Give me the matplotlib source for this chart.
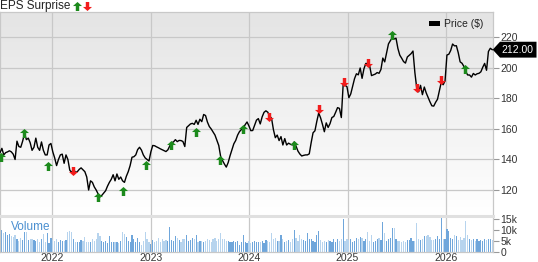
import numpy as np
import pandas as pd
import matplotlib
matplotlib.use("Agg")
import matplotlib.pyplot as plt
import matplotlib.transforms as mtransforms
from matplotlib.path import Path
from matplotlib.patches import Polygon
from matplotlib.colors import LinearSegmentedColormap

plt.rcParams["font.family"] = ["Liberation Sans", "DejaVu Sans"]

# ---------------------------------------------------------------------------
# Data (weekly closes from 2021-06-21, volume in thousands)
# ---------------------------------------------------------------------------
start_date = "2021-06-21"

prices = [
    144.4, 147.3, 143.0, 144.5, 145.0, 145.7, 145.0, 143.5, 140.0, 152.0,
    148.5, 148.0, 152.0, 157.0, 153.0, 154.0, 151.0, 146.0, 148.0, 154.0,
    148.0, 146.0, 151.5, 146.0, 143.0, 143.0, 149.5, 150.5, 145.0, 141.0,
    136.0, 140.0, 143.0, 143.5, 137.5, 143.0, 140.0, 133.0, 131.5, 133.6,
    131.5, 132.0, 133.5, 134.5, 133.2, 132.0, 128.5, 120.0, 126.0, 125.0,
    122.0, 120.0, 117.5, 115.4, 116.5, 118.0, 119.5, 122.5, 125.0, 127.0,
    130.0, 126.0, 130.5, 127.0, 128.5, 126.0, 125.0, 129.0, 132.0, 136.0,
    141.5, 141.8, 143.0, 146.5, 148.0, 146.2, 143.0, 141.0, 140.0, 139.0,
    145.0, 149.2, 149.0, 148.3, 147.7, 147.0, 146.4, 145.8, 145.2, 146.3,
    148.8, 151.0, 151.5, 153.0, 151.7, 152.5, 152.4, 151.8, 148.5, 161.0,
    162.2, 163.3, 163.7, 163.0, 165.7, 163.0, 166.4, 164.8, 169.5, 168.8,
    164.5, 161.6, 160.0, 158.0, 156.0, 152.5, 149.2, 142.0, 139.3, 137.0,
    135.0, 138.0, 142.5, 146.5, 150.3, 152.5, 156.0, 158.3, 159.6, 160.5,
    162.8, 164.6, 162.0, 158.9, 159.0, 162.5, 165.8, 166.8, 163.3, 167.9,
    170.9, 171.9, 171.0, 168.5, 167.0, 159.5, 154.3, 156.0, 152.4, 155.0,
    149.5, 153.7, 149.5, 150.7, 150.0, 149.5, 151.5, 148.7, 145.5, 143.6,
    142.3, 142.7, 143.0, 143.0, 143.7, 151.0, 157.5, 158.8, 165.0, 170.5,
    167.3, 163.0, 158.2, 164.0, 161.0, 163.5, 167.5, 168.2, 171.0, 174.0,
    173.5, 167.5, 189.8, 188.6, 187.7, 180.5, 183.0, 188.0, 193.0, 196.2,
    195.5, 200.0, 193.2, 199.5, 203.0, 202.8, 201.6, 195.0, 195.5, 196.0,
    197.0, 196.5, 199.0, 206.5, 204.0, 210.0, 215.8, 217.9, 219.8, 219.0,
    219.5, 212.8, 208.4, 206.4, 204.2, 203.2, 207.2, 208.3, 209.4, 211.1,
    197.0, 186.6, 184.4, 188.6, 182.5, 187.5, 183.7, 180.8, 177.8, 175.2,
    175.0, 177.5, 179.5, 185.0, 190.7, 189.0, 191.5, 208.5, 209.0, 211.5,
    215.7, 214.5, 214.6, 210.0, 204.0, 203.1, 201.0, 197.5, 195.4, 195.4,
    194.0, 196.4, 195.4, 196.2, 196.5, 197.5, 200.5, 203.0, 198.5, 210.8,
    212.9, 212.0,
]

volume_k = [
    11.5, 10.0, 8.4, 9.0, 7.5, 8.0, 7.0, 6.5, 7.8, 6.0,
    5.0, 6.2, 5.5, 9.0, 8.8, 5.4, 5.9, 6.0, 5.2, 4.8,
    5.6, 4.5, 5.8, 8.0, 4.6, 8.7, 3.8, 6.2, 5.5, 5.0,
    6.0, 4.4, 5.2, 5.0, 4.8, 5.4, 9.0, 9.3, 9.0, 5.8,
    4.6, 4.4, 4.2, 5.5, 4.8, 6.8, 4.5, 4.2, 4.4, 6.0,
    5.0, 5.6, 8.4, 7.0, 5.0, 4.2, 4.8, 4.0, 7.0, 4.5,
    4.3, 4.6, 4.2, 4.0, 4.8, 9.0, 8.0, 6.5, 5.0, 4.2,
    7.5, 5.6, 4.5, 6.2, 4.6, 3.0, 5.0, 9.0, 5.8, 4.2,
    3.6, 5.4, 4.4, 5.0, 6.2, 4.6, 5.8, 4.8, 5.2, 5.0,
    11.5, 5.4, 5.0, 7.0, 6.2, 5.5, 4.6, 6.0, 5.6, 7.5,
    4.8, 5.2, 6.4, 5.8, 7.5, 4.6, 5.0, 4.8, 4.4, 4.8,
    6.0, 5.2, 4.6, 5.8, 6.4, 5.0, 5.8, 8.4, 6.0, 5.6,
    5.0, 4.8, 4.2, 4.6, 4.8, 4.4, 5.0, 3.2, 4.6, 7.5,
    4.2, 4.0, 4.8, 3.8, 4.2, 5.0, 4.4, 4.6, 4.2, 4.8,
    4.0, 5.4, 5.0, 4.6, 8.7, 5.8, 6.4, 5.0, 4.8, 7.5,
    5.6, 4.4, 4.8, 5.2, 4.6, 5.8, 10.0, 6.4, 5.0, 7.5,
    6.0, 5.4, 4.8, 8.4, 6.0, 5.6, 5.0, 4.6, 7.5, 9.5,
    5.2, 4.2, 5.0, 4.6, 5.4, 4.8, 4.2, 5.6, 4.6, 5.6,
    4.8, 6.0, 15.0, 5.0, 5.6, 5.2, 5.6, 4.6, 5.0, 6.2,
    6.0, 6.8, 6.2, 5.0, 5.6, 9.0, 4.8, 7.5, 4.6, 5.0,
    5.6, 6.4, 5.2, 13.4, 8.4, 5.0, 5.8, 6.2, 10.8, 11.0,
    5.6, 5.0, 4.8, 4.6, 5.0, 4.2, 5.4, 5.4, 6.4, 5.0,
    4.8, 13.0, 5.6, 5.4, 6.0, 7.2, 7.0, 7.6, 6.6, 5.2,
    5.4, 6.0, 7.0, 5.6, 15.8, 5.6, 5.8, 10.3, 9.5, 6.2,
    5.8, 7.5, 7.0, 5.4, 6.6, 5.4, 6.4, 13.9, 7.4, 5.6,
    5.2, 6.0, 4.8, 5.6, 5.0, 5.4, 4.8, 6.0, 5.2, 5.8,
    5.6, 5.4,
]

beat_dates = ["2021-06-25", "2021-09-18", "2021-12-16", "2022-06-20",
              "2022-09-21", "2022-12-15", "2023-03-18", "2023-06-19",
              "2023-09-16", "2023-12-11", "2024-06-16", "2025-06-16",
              "2026-03-13"]
beat_prices = [141.6, 157.4, 135.7, 115.4, 119.3, 136.4, 149.5, 158.0,
               139.7, 160.0, 149.5, 221.6, 199.1]

miss_dates = ["2022-03-20", "2024-03-17", "2024-09-17", "2024-12-19",
              "2025-03-19", "2025-09-17", "2025-12-14"]
miss_prices = [132.7, 167.7, 172.9, 190.8, 203.1, 186.7, 192.1]

price_ticks = [120, 140, 160, 180, 200, 220]
vol_ticks = [0, 5, 10, 15]
vol_tick_labels = ["0", "5k", "10k", "15k"]
year_ticks = ["2022-01-01", "2023-01-01", "2024-01-01", "2025-01-01", "2026-01-01"]
year_labels = ["2022", "2023", "2024", "2025", "2026"]
last_price = 212.00

# ---------------------------------------------------------------------------
# Canvas (pixel layout helpers)
# ---------------------------------------------------------------------------
W, H = 538, 262
fig = plt.figure(figsize=(W / 100, H / 100), dpi=100)
fig.patch.set_facecolor("white")


def fx(px):
    return px / W


def fy(py):
    return 1 - py / H


GRID = "#c8c8c8"
TICK_FS = 7.5
GREEN = "#1c8a1c"
RED = "#f21c1c"

ax = fig.add_axes([0, fy(215), fx(493), fy(12) - fy(215)])
axv = fig.add_axes([0, fy(251.5), fx(493), fy(216) - fy(251.5)], sharex=ax)

weeks = pd.date_range(start_date, periods=len(prices), freq="7D")
years = pd.to_datetime(year_ticks)

# gradient background of the price panel
grad_cmap = LinearSegmentedColormap.from_list("bg", ["#ffffff", "#e4e4e4"])
ax.imshow(np.linspace(0, 1, 256).reshape(-1, 1), cmap=grad_cmap, origin="lower",
          extent=[0, 1, 0, 1], transform=ax.transAxes, aspect="auto", zorder=0)

# price line
ax.plot(weeks, prices, color="black", lw=1.0, zorder=3)

# EPS surprise arrows
up_arrow = Path([(-1, 0.1), (0, 1), (1, 0.1), (0.38, 0.1), (0.38, -1),
                 (-0.38, -1), (-0.38, 0.1), (-1, 0.1)], closed=True)
down_arrow = Path([(x, -y) for x, y in up_arrow.vertices], closed=True)

ax.plot(pd.to_datetime(beat_dates), beat_prices, ls="none", marker=up_arrow,
        ms=6.5, color=GREEN, mew=0, zorder=4)
ax.plot(pd.to_datetime(miss_dates), miss_prices, ls="none", marker=down_arrow,
        ms=6.5, color=RED, mew=0, zorder=4)

ax.set_xlim(pd.Timestamp("2021-06-21"), pd.Timestamp("2026-06-25"))
ax.set_ylim(103.6, 236.7)
ax.set_yticks(price_ticks)
ax.yaxis.tick_right()
ax.tick_params(axis="y", length=4, width=0.8, color="#999999", pad=1.5,
               labelsize=TICK_FS, labelcolor="#333333")
ax.tick_params(axis="x", length=0, labelbottom=False)
ax.set_xticks(years)
ax.grid(True, color=GRID, lw=0.9, zorder=1)
ax.set_axisbelow(True)
for side in ["top", "left", "right"]:
    ax.spines[side].set_color(GRID)
    ax.spines[side].set_linewidth(0.9)
ax.spines["bottom"].set_visible(False)

# volume bars: darker for up weeks, lighter for down weeks
changes = np.diff(np.array(prices), prepend=prices[0])
bar_colors = np.where(changes >= 0, "#6fa6db", "#b7d4ee")
axv.bar(weeks, volume_k, width=4.5, color=bar_colors, linewidth=0, zorder=2)
axv.set_ylim(0, 16.4)
axv.set_yticks(vol_ticks)
axv.set_yticklabels(vol_tick_labels)
axv.yaxis.tick_right()
axv.tick_params(axis="y", length=4, width=0.8, color="#999999", pad=1.5,
                labelsize=TICK_FS, labelcolor="#333333")
axv.set_xticks(years)
axv.set_xticklabels(year_labels)
axv.tick_params(axis="x", length=0, pad=0.8, labelsize=TICK_FS, labelcolor="#333333")
axv.grid(True, axis="x", color=GRID, lw=0.9, zorder=1)
axv.set_axisbelow(True)
for side in ["left", "right", "bottom"]:
    axv.spines[side].set_color(GRID)
    axv.spines[side].set_linewidth(0.9)
axv.spines["top"].set_color("#e0e0e0")
axv.spines["top"].set_linewidth(2.2)

vol_tr = mtransforms.blended_transform_factory(fig.transFigure, axv.transAxes)
axv.text(fx(10.5), 0.7, "Volume", transform=vol_tr, color="#4a8fd0",
         fontsize=8.5, va="center", ha="left", zorder=5)

# ---------------------------------------------------------------------------
# Header, legend and last-price tag
# ---------------------------------------------------------------------------
fig.text(fx(0), fy(5.5), "EPS Surprise", fontsize=8.5, va="center", ha="left",
         color="#222222")
fig.add_artist(plt.Line2D([fx(77)], [fy(5.5)], marker=up_arrow, ms=6.5,
                          color=GREEN, mew=0, ls="none", transform=fig.transFigure))
fig.add_artist(plt.Line2D([fx(87)], [fy(5.5)], marker=down_arrow, ms=6.5,
                          color=RED, mew=0, ls="none", transform=fig.transFigure))

fig.patches.append(plt.Rectangle((fx(429), fy(26)), fx(11), fy(21.5) - fy(26),
                                 facecolor="black", edgecolor="none",
                                 transform=fig.transFigure, figure=fig))
fig.text(fx(444.5), fy(23.8), "Price ($)", fontsize=7.5, va="center", ha="left",
         color="#222222")

tag_tr = mtransforms.blended_transform_factory(fig.transFigure, ax.transData)
half = 5.2
tag = Polygon([(fx(492.7), last_price), (fx(500), last_price + half),
               (fx(536.5), last_price + half), (fx(536.5), last_price - half),
               (fx(500), last_price - half)], closed=True,
              facecolor="black", edgecolor="none", transform=tag_tr, clip_on=False,
              zorder=6)
ax.add_patch(tag)
ax.text(fx(517.5), last_price, f"{last_price:.2f}", transform=tag_tr,
        color="white", fontsize=7.5, ha="center", va="center", zorder=7,
        clip_on=False)

fig.savefig("out.png", dpi=100, facecolor="white")
